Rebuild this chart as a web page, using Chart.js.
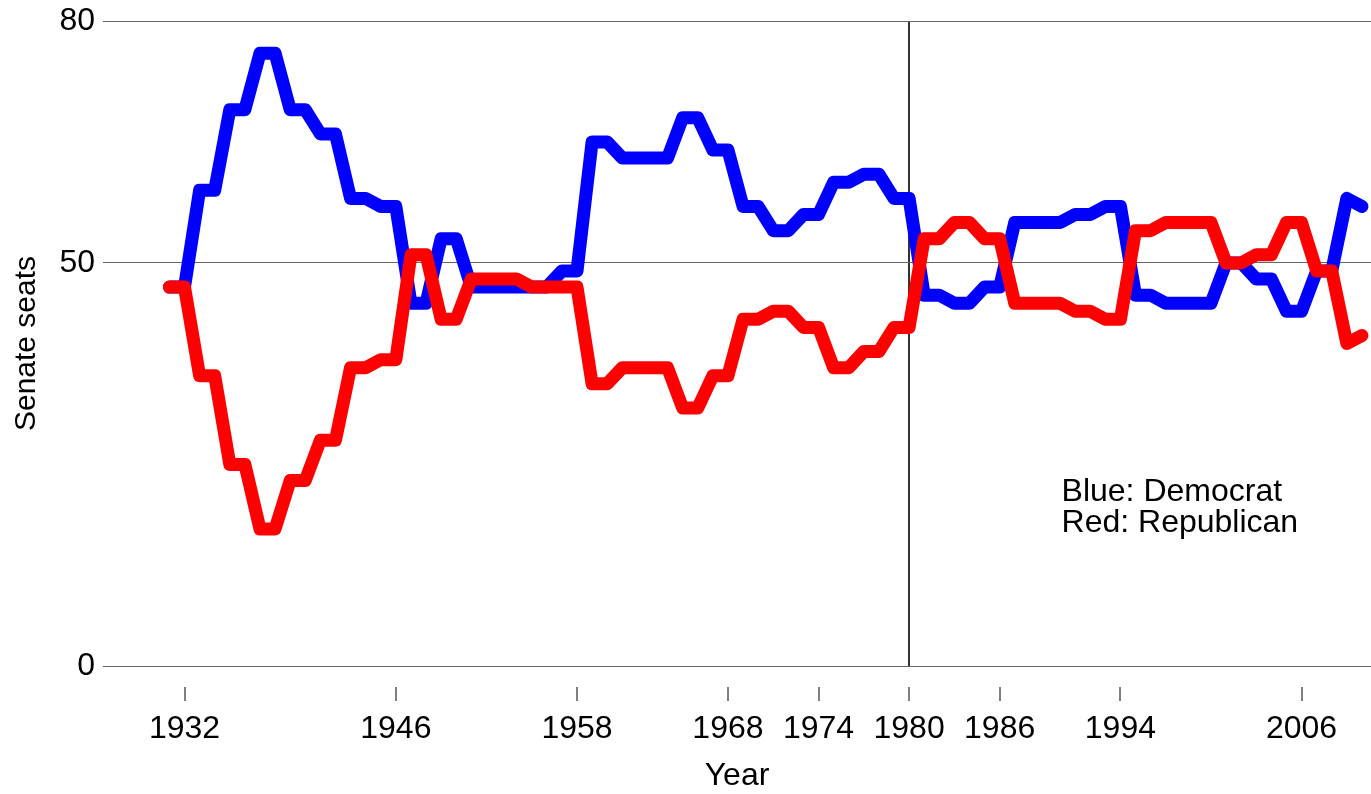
<!DOCTYPE html>
<html>
<head>
<meta charset="utf-8">
<script src="https://cdn.jsdelivr.net/npm/chart.js@4/dist/chart.umd.min.js"></script>
<style>
  html, body { margin: 0; padding: 0; background: #ffffff; }
  #wrap { width: 1371px; height: 794px; position: relative; }
</style>
</head>
<body>
<div id="wrap"><canvas id="c"></canvas></div>
<script>
// ---- data ----
const years = [
  1931,1932,1933,1934,1935,1936,1937,1938,1939,1940,
  1941,1942,1943,1944,1945,1946,1947,1948,1949,1950,
  1951,1952,1953,1954,1955,1956,1957,1958,1959,1960,
  1961,1962,1963,1964,1965,1966,1967,1968,1969,1970,
  1971,1972,1973,1974,1975,1976,1977,1978,1979,1980,
  1981,1982,1983,1984,1985,1986,1987,1988,1989,1990,
  1991,1992,1993,1994,1995,1996,1997,1998,1999,2000,
  2001,2002,2003,2004,2005,2006,2007,2008,2009,2010
];
const democratSeats = [
  47,47, 59,59, 69,69, 76,76, 69,69,
  66,66, 58,58, 57,57, 45,45, 53,53,
  47,47, 47,47, 47,47, 49,49, 65,65,
  63,63, 63,63, 68,68, 64,64, 57,57,
  54,54, 56,56, 60,60, 61,61, 58,58,
  46,46, 45,45, 47,47, 55,55, 55,55,
  56,56, 57,57, 46,46, 45,45, 45,45,
  50,50, 48,48, 44,44, 49,49, 58,57
];
const republicanSeats = [
  47,47, 36,36, 25,25, 17,17, 23,23,
  28,28, 37,37, 38,38, 51,51, 43,43,
  48,48, 48,48, 47,47, 47,47, 35,35,
  37,37, 37,37, 32,32, 36,36, 43,43,
  44,44, 42,42, 37,37, 39,39, 42,42,
  53,53, 55,55, 53,53, 45,45, 45,45,
  44,44, 43,43, 54,54, 55,55, 55,55,
  50,50, 51,51, 55,55, 49,49, 40,41
];
const xTickYears = [1932, 1946, 1958, 1968, 1974, 1980, 1986, 1994, 2006];
const yTickValues = [0, 50, 80];
const markedYear = 1980;
const noteLines = ['Blue: Democrat', 'Red: Republican'];

const FONT = '"Liberation Sans", Arial, Helvetica, sans-serif';

const toPoints = (vals) => years.map((y, i) => ({ x: y, y: vals[i] }));

const notePlugin = {
  id: 'note',
  afterDraw(chart) {
    const ctx = chart.ctx;
    const xs = chart.scales.x, ys = chart.scales.y;
    const x0 = xs.getPixelForValue(1990.1);
    const y0 = ys.getPixelForValue(20.45);
    ctx.save();
    ctx.font = '32px ' + FONT;
    ctx.fillStyle = '#000';
    ctx.textAlign = 'left';
    ctx.textBaseline = 'alphabetic';
    noteLines.forEach((t, i) => ctx.fillText(t, x0, y0 + i * 31));
    ctx.restore();
  }
};

new Chart(document.getElementById('c'), {
  type: 'line',
  data: {
    datasets: [
      {
        label: 'Republican',
        data: toPoints(republicanSeats),
        borderColor: '#ff0000',
        backgroundColor: '#ff0000',
        borderWidth: 13,
        borderJoinStyle: 'round',
        borderCapStyle: 'round',
        pointRadius: 0,
        tension: 0,
        clip: false,
        fill: false
      },
      {
        label: 'Democrat',
        data: toPoints(democratSeats),
        borderColor: '#0000ff',
        backgroundColor: '#0000ff',
        borderWidth: 13,
        borderJoinStyle: 'round',
        borderCapStyle: 'round',
        pointRadius: 0,
        tension: 0,
        clip: false,
        fill: false
      }
    ]
  },
  options: {
    responsive: true,
    maintainAspectRatio: false,
    animation: false,
    events: [],
    layout: { padding: { top: 21, right: 0, left: 0, bottom: 0 } },
    plugins: {
      legend: { display: false },
      tooltip: { enabled: false }
    },
    scales: {
      x: {
        type: 'linear',
        min: 1926.6,
        max: 2010.6,
        afterBuildTicks: (scale) => { scale.ticks = xTickYears.map(v => ({ value: v })); },
        afterFit: (scale) => {
          scale.height = 128;
          scale.paddingLeft = 0;
          scale.paddingRight = 0;
        },
        border: { display: false },
        grid: {
          drawOnChartArea: true,
          drawTicks: true,
          color: (ctx) => (ctx.tick && ctx.tick.value === markedYear) ? '#333333' : 'rgba(0,0,0,0)',
          lineWidth: (ctx) => (ctx.tick && ctx.tick.value === markedYear) ? 2 : 0,
          tickColor: '#000000',
          tickWidth: 1,
          tickLength: 35,
          tickBorderDash: [0, 21, 14, 200]
        },
        ticks: {
          autoSkip: false,
          maxRotation: 0,
          padding: 9,
          color: '#000',
          font: { family: FONT, size: 32 },
          callback: (v) => String(v)
        },
        title: {
          display: true,
          text: 'Year',
          color: '#000',
          font: { family: FONT, size: 32 },
          padding: { top: 0, bottom: -1 }
        }
      },
      y: {
        type: 'linear',
        min: 0,
        max: 80,
        afterBuildTicks: (scale) => { scale.ticks = yTickValues.map(v => ({ value: v })); },
        afterFit: (scale) => {
          scale.width = 103;
          scale.paddingTop = 0;
          scale.paddingBottom = 0;
        },
        border: { display: false },
        grid: {
          drawTicks: false,
          color: '#666666',
          lineWidth: 1
        },
        ticks: {
          padding: 8,
          color: '#000',
          font: { family: FONT, size: 32 },
          callback: (v) => String(v)
        },
        title: {
          display: true,
          text: 'Senate seats',
          color: '#000',
          font: { family: FONT, size: 30 },
          padding: { top: 9, bottom: 0 }
        }
      }
    }
  },
  plugins: [notePlugin]
});
</script>
</body>
</html>
